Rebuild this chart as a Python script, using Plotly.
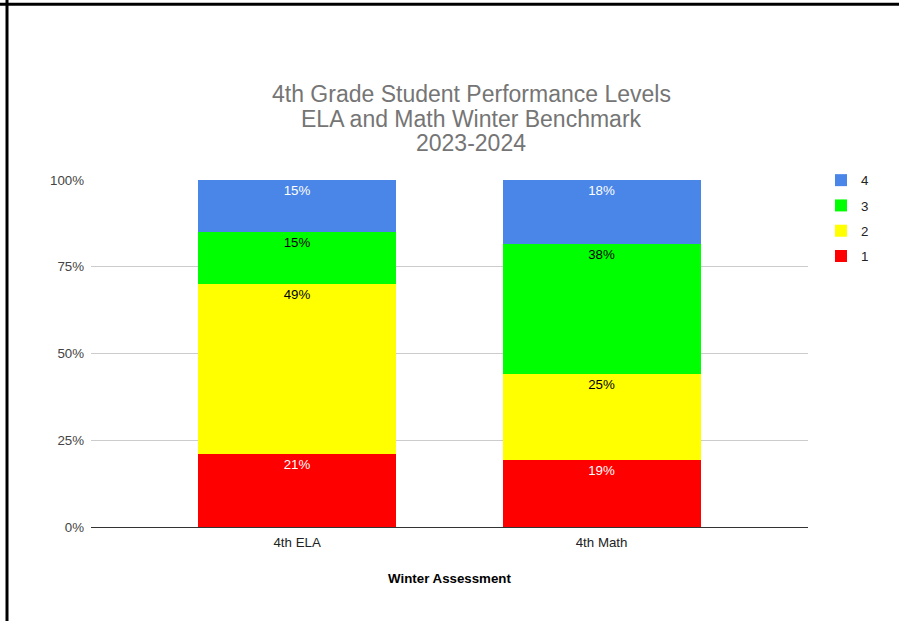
import plotly.graph_objects as go

categories = ["4th ELA", "4th Math"]
levels = ["1", "2", "3", "4"]
level1 = [0.210, 0.193]
level2 = [0.490, 0.248]
level3 = [0.150, 0.375]
level4 = [0.150, 0.184]
series = [level1, level2, level3, level4]
colors = ["#ff0000", "#ffff00", "#00ff00", "#4a86e8"]
text_colors = ["#ffffff", "#000000", "#000000", "#ffffff"]
title_lines = ["4th Grade Student Performance Levels", "ELA and Math Winter Benchmark", "2023-2024"]

FONT = "Liberation Sans, Arial, sans-serif"
FS = 13.3

fig = go.Figure()
for i, (name, vals, col, tc) in enumerate(zip(levels, series, colors, text_colors)):
    fig.add_trace(go.Bar(
        x=categories, y=vals, name=name, legendgroup=name,
        legendrank=len(levels) - i,
        marker=dict(color=col, line=dict(width=0)),
        width=0.65,
        texttemplate="%{y:.0%}", textposition="inside",
        insidetextanchor="end", constraintext="none",
        textfont=dict(color=tc, size=FS, family=FONT),
        hoverinfo="skip",
    ))

W, H = 899, 621
L, R, T, B = 91, 91, 180, 94
pw, ph = W - L - R, H - T - B

def px_x(x):
    return (x - L) / pw

def px_y(y):
    return (H - B - y) / ph

title_y = [94, 119, 143]
annotations = [
    dict(text=t, xref="paper", yref="paper", x=px_x(471), y=px_y(yy),
         xanchor="center", yanchor="middle", showarrow=False,
         font=dict(family=FONT, size=23, color="#757575"))
    for t, yy in zip(title_lines, title_y)
]

fig.update_layout(
    width=W, height=H,
    margin=dict(l=L, r=R, t=T, b=B, autoexpand=False),
    paper_bgcolor="white", plot_bgcolor="white",
    barmode="stack",
    font=dict(family=FONT, size=FS, color="#444444"),
    annotations=annotations,
    legend=dict(
        x=1.0 + 13 / pw, xanchor="left", y=1.0 + 15 / ph, yanchor="top",
        traceorder="grouped", tracegroupgap=5,
        font=dict(family=FONT, size=FS, color="#222222"),
        bgcolor="rgba(0,0,0,0)",
    ),
    xaxis=dict(
        type="category", range=[-0.677, 1.678],
        showline=True, linecolor="#333333", linewidth=1,
        ticks="", ticklabelstandoff=3,
        tickfont=dict(color="#222222", size=FS, family=FONT),
        title=dict(text="<b>Winter Assessment</b>", font=dict(color="#000000", size=FS, family=FONT), standoff=24),
        showgrid=False,
    ),
    yaxis=dict(
        range=[0, 1], dtick=0.25, tickformat=".0%",
        gridcolor="#cccccc", gridwidth=1, zeroline=False,
        ticks="", ticklabelstandoff=6,
        tickfont=dict(color="#444444", size=FS, family=FONT),
        showline=False,
    ),
    shapes=[
        dict(type="line", xref="paper", yref="paper",
             x0=px_x(-10), x1=px_x(W + 10), y0=px_y(4.3), y1=px_y(4.3),
             line=dict(color="black", width=3)),
        dict(type="line", xref="paper", yref="paper",
             x0=px_x(7), x1=px_x(7), y0=px_y(-10), y1=px_y(H + 10),
             line=dict(color="black", width=3)),
    ],
)

fig.write_html("out.html", config={"displayModeBar": False},
               post_script="document.body.style.margin='0px';")
